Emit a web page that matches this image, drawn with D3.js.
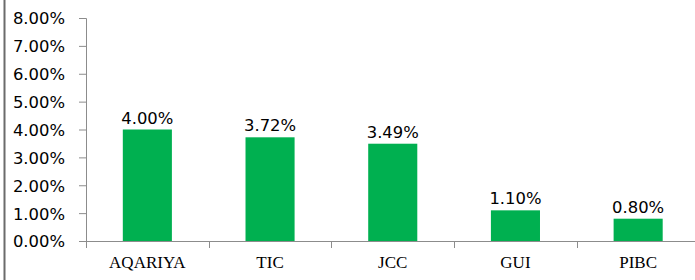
<!DOCTYPE html>
<meta charset="utf-8">
<style>
body { margin: 0; background: #fff; }
.y-axis text { font-family: "DejaVu Sans", sans-serif; font-size: 16.4px; fill: #000; }
.x-lab { font-family: "Liberation Serif", serif; font-size: 17px; fill: #000; }
.val { font-family: "DejaVu Sans", sans-serif; font-size: 16.4px; fill: #000; }
</style>
<body>
<script src="https://d3js.org/d3.v7.min.js"></script>
<script>

var width = 695,
    height = 280;

var companies = ["AQARIYA", "TIC", "JCC", "GUI", "PIBC"];
var yields = [4.00, 3.72, 3.49, 1.10, 0.80];
var yTicks = [0, 1, 2, 3, 4, 5, 6, 7, 8];

var x0 = 86, x1 = 699.5, yTop = 18, yBase = 241;

var x = d3.scaleBand()
    .domain(companies)
    .range([x0, x1])
    .paddingInner(0.6)
    .paddingOuter(0.3);

var y = d3.scaleLinear()
    .domain([0, 8])
    .range([yBase, yTop]);

var svg = d3.select("body").append("svg")
    .attr("width", width)
    .attr("height", height);

svg.append("rect")
    .attr("x", 0).attr("y", 0)
    .attr("width", width).attr("height", height)
    .attr("fill", "#fff");

// left border of the frame
svg.append("line")
    .attr("x1", 4.5).attr("x2", 4.5)
    .attr("y1", 0).attr("y2", height)
    .attr("stroke", "#6b6b6b")
    .attr("stroke-width", 2);

// y axis
var yAxis = svg.append("g")
    .attr("class", "y-axis")
    .attr("transform", "translate(" + x0 + ",0)")
    .call(d3.axisLeft(y)
        .tickValues(yTicks)
        .tickSize(7)
        .tickPadding(14)
        .tickFormat(function(d) { return d.toFixed(2) + "%"; }));

yAxis.select(".domain").attr("stroke", "#8c8c8c");
yAxis.selectAll(".tick line").attr("stroke", "#8c8c8c");
yAxis.selectAll(".tick text").attr("dy", "0.36em");

// baseline
svg.append("line")
    .attr("x1", x0 - 7).attr("x2", width)
    .attr("y1", yBase + 0.5).attr("y2", yBase + 0.5)
    .attr("stroke", "#8c8c8c");

// category boundary ticks
var step = x.step();
svg.selectAll(".xtick")
    .data(d3.range(companies.length))
    .enter().append("line")
    .attr("class", "xtick")
    .attr("x1", function(i) { return Math.round(x0 + i * step) + 0.5; })
    .attr("x2", function(i) { return Math.round(x0 + i * step) + 0.5; })
    .attr("y1", yBase)
    .attr("y2", yBase + 7)
    .attr("stroke", "#8c8c8c");

// bars
svg.selectAll(".bar")
    .data(companies)
    .enter().append("rect")
    .attr("class", "bar")
    .attr("x", function(d) { return x(d); })
    .attr("width", x.bandwidth())
    .attr("y", function(d, i) { return y(yields[i]); })
    .attr("height", function(d, i) { return yBase - y(yields[i]); })
    .attr("fill", "#00b050");

// value labels
svg.selectAll(".val")
    .data(companies)
    .enter().append("text")
    .attr("class", "val")
    .attr("x", function(d) { return x(d) + x.bandwidth() / 2; })
    .attr("y", function(d, i) { return y(yields[i]) - 6; })
    .attr("text-anchor", "middle")
    .text(function(d, i) { return yields[i].toFixed(2) + "%"; });

// category labels
svg.selectAll(".x-lab")
    .data(companies)
    .enter().append("text")
    .attr("class", "x-lab")
    .attr("x", function(d) { return x(d) + x.bandwidth() / 2; })
    .attr("y", 268)
    .attr("text-anchor", "middle")
    .text(function(d) { return d; });

</script>
